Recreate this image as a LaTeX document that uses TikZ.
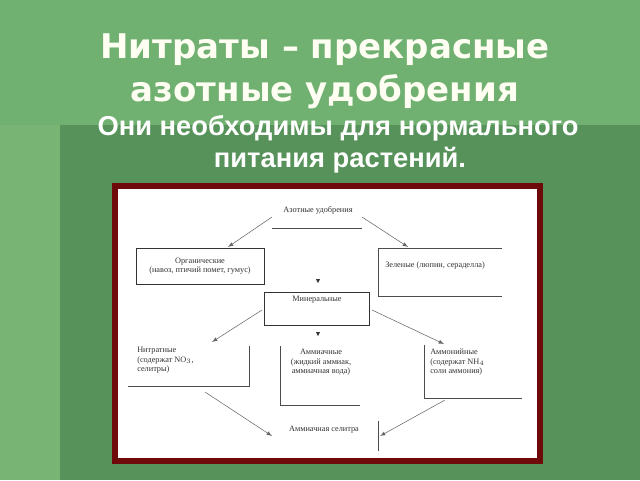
\documentclass[tikz,border=0pt]{standalone}
\usepackage{fontspec}
\setmainfont{Liberation Serif}
\newfontfamily\titlefont{DejaVu Sans}
\newfontfamily\subfont{Liberation Sans}
\definecolor{bgA}{RGB}{98,160,98}
\definecolor{bgB}{RGB}{112,176,112}
\definecolor{bgC}{RGB}{86,146,90}
\definecolor{bgD}{RGB}{120,180,116}
\definecolor{frm}{RGB}{110,10,10}
\begin{document}
\begin{tikzpicture}[x=0.75pt,y=-0.75pt,
  lbl/.style={font=\fontsize{6.2}{7}\selectfont, text=black!80, inner sep=0pt, align=center},
  lnk/.style={draw=black!60, line width=0.4pt, -latex},
  ln/.style={draw=black!70, line width=0.5pt},
  ttl/.style={font=\titlefont\bfseries\fontsize{25.5}{30}\selectfont, text=white!95!yellow},
  sub/.style={font=\subfont\bfseries\fontsize{20.5}{24}\selectfont, text=white}]
\useasboundingbox (0,0) rectangle (640,480);
\fill[bgA] (0,0) rectangle (640,480);
\fill[bgB] (0,0) rectangle (640,125);
\fill[bgC] (60,125) rectangle (640,480);
\fill[bgD] (0,125) rectangle (60,480);
\node[ttl] (t1) at (325,50) {Нитраты – прекрасные};
\node[ttl] (t2) at (325,92) {азотные удобрения};
\node[sub] (s1) at (338,128) {Они необходимы для нормального};
\node[sub] (s2) at (340,160) {питания растений.};
\draw[line width=4pt, draw=frm, fill=white] (115,186) rectangle (540,461);
\node[lbl] (az) at (318,210) {Азотные удобрения};
\coordinate (azL) at (272,217); \coordinate (azR) at (362,217);
\draw[ln] (272,228) -- (362,228);
\node[draw=black!80, line width=0.5pt, minimum width=96pt, minimum height=27pt, lbl] (org) at (200,266) {Органические\\(навоз, птичий помет, гумус)};
\node[lbl, anchor=west] (zel) at (385,266) {Зеленые (люпин, сераделла)};
\draw[ln] (502,248) -- (378,248) -- (378,296) -- (502,296);
\coordinate (zelT) at (408,247); \coordinate (orgT) at (228,247);
\node[draw=black!80, line width=0.5pt, minimum width=79pt, minimum height=25pt, lbl, anchor=north] (min) at (317,292) {Минеральные\\[8pt]};
\draw[lnk] (azL) -- (orgT);
\draw[lnk] (azR) -- (zelT);
\fill[black!80] (316,279) -- (320,279) -- (318,283) -- cycle;
\fill[black!80] (316,332) -- (320,332) -- (318,336) -- cycle;
\node[lbl, anchor=north west, align=left] (nit) at (137,347) {Нитратные\\(содержат NO$_3$,\\селитры)};
\draw[ln] (128,386) -- (249,386) -- (249,346);
\node[lbl, anchor=north] (amm) at (321,349) {Аммиачные\\(жидкий аммиак,\\аммиачная вода)};
\draw[ln] (280,346) -- (280,405) -- (360,405);
\node[lbl, anchor=north west, align=left] (amn) at (430,349) {Аммонийные\\(содержат NH$_4$\\соли аммония)};
\draw[ln] (424,345) -- (424,398) -- (522,398);
\coordinate (nitT) at (212,342); \coordinate (amnT) at (444,344);
\coordinate (minL) at (262,310); \coordinate (minR) at (372,310);
\draw[lnk] (minL) -- (nitT);
\draw[lnk] (minR) -- (amnT);
\node[lbl] (sel) at (324,430) {Аммиачная селитра};
\draw[ln] (378,421) -- (378,451);
\coordinate (nitB) at (205,392); \coordinate (amnB) at (445,400);
\coordinate (selL) at (272,436); \coordinate (selR) at (380,436);
\draw[lnk] (nitB) -- (selL);
\draw[lnk] (amnB) -- (selR);
\end{tikzpicture}
\end{document}
